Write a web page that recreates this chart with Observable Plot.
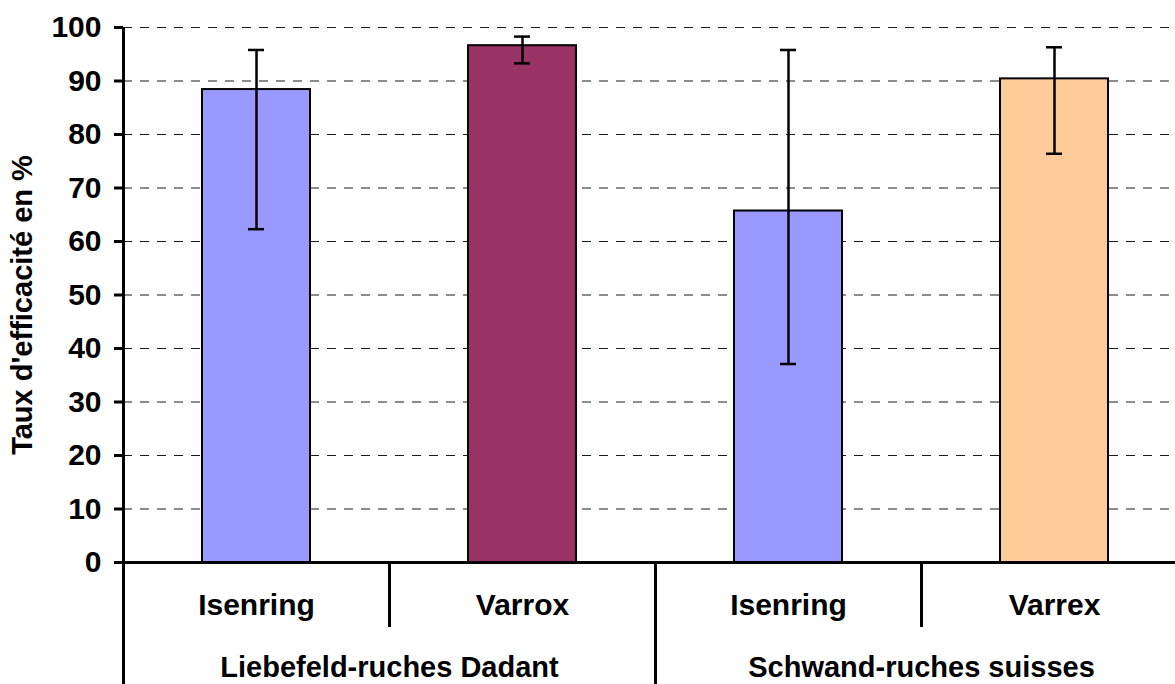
<!DOCTYPE html>
<html>
<head>
<meta charset="utf-8">
<script src="https://cdn.jsdelivr.net/npm/d3@7"></script>
<script src="https://cdn.jsdelivr.net/npm/@observablehq/plot@0.6"></script>
<style>
  html, body { margin: 0; padding: 0; background: #fff; overflow: hidden; }
  #chart svg { display: block; overflow: visible; }
</style>
</head>
<body>
<div id="chart"></div>
<script>
// ---- data ----
const groups = ["Liebefeld-ruches Dadant", "Liebefeld-ruches Dadant", "Schwand-ruches suisses", "Schwand-ruches suisses"];
const treatments = ["Isenring", "Varrox", "Isenring", "Varrex"];
const efficacy = [88.4, 96.6, 65.7, 90.4];
const errLow = [62.3, 93.3, 37.1, 76.4];
const errHigh = [95.8, 98.3, 95.8, 96.3];
const yTicks = [0, 10, 20, 30, 40, 50, 60, 70, 80, 90, 100];
const yTitle = "Taux d'efficacité en %";

// ---- styles ----
const colorDomain = ["Isenring", "Varrox", "Varrex"];
const colorRange = ["#9999FF", "#993366", "#FFCC99"];

const rows = treatments.map((t, i) => ({
  key: groups[i] + "|" + t,
  group: groups[i],
  treatment: t,
  value: efficacy[i],
  lo: errLow[i],
  hi: errHigh[i]
}));
const keys = rows.map(d => d.key);
const groupStarts = rows.filter((d, i) => i === 0 || groups[i - 1] !== d.group);
const innerStarts = rows.filter((d, i) => i > 0 && groups[i - 1] === d.group);

const W = 1175, H = 684;
const mTop = 27, mBottom = 122, mLeft = 123;
const xRange = [mLeft, 1187];
const step = (xRange[1] - xRange[0]) / keys.length;
const plotH = H - mTop - mBottom;
const font = "Liberation Sans, Arial, sans-serif";

const chart = Plot.plot({
  width: W,
  height: H,
  marginTop: mTop,
  marginBottom: mBottom,
  marginLeft: mLeft,
  marginRight: 0,
  style: { fontFamily: font, fontWeight: "bold", background: "#fff", color: "#000" },
  x: { domain: keys, range: xRange, paddingInner: 0.594, paddingOuter: 0.297, axis: null },
  y: { domain: [0, 100], axis: null },
  color: { domain: colorDomain, range: colorRange },
  marks: [
    Plot.gridY(yTicks.slice(1), { stroke: "#000", strokeOpacity: 0.9, strokeDasharray: "9,8", strokeWidth: 1.2 }),
    Plot.barY(rows, { x: "key", y: "value", fill: "treatment", stroke: "#000", strokeWidth: 2 }),
    Plot.ruleX(rows, { x: "key", y1: "lo", y2: "hi", stroke: "#000", strokeWidth: 2.5 }),
    Plot.tickY(rows, { x: "key", y: "lo", stroke: "#000", strokeWidth: 2.5, insetLeft: 46, insetRight: 46 }),
    Plot.tickY(rows, { x: "key", y: "hi", stroke: "#000", strokeWidth: 2.5, insetLeft: 46, insetRight: 46 }),
    // x axis line
    Plot.ruleY([0], { stroke: "#000", strokeWidth: 3, insetLeft: -9 }),
    // y axis line
    Plot.ruleX([keys[0]], { dx: -step / 2, stroke: "#000", strokeWidth: 3 }),
    // y ticks + labels
    Plot.axisY(yTicks, { tickSize: 9, tickPadding: 13, strokeWidth: 3, fontSize: 30, fontWeight: "bold", label: null }),
    // group separators below the axis
    Plot.ruleX(groupStarts, { x: "key", dx: -step / 2, insetTop: plotH, insetBottom: -mBottom, stroke: "#000", strokeWidth: 3 }),
    Plot.ruleX(innerStarts, { x: "key", dx: -step / 2, insetTop: plotH, insetBottom: -65, stroke: "#000", strokeWidth: 3 }),
    // category labels
    Plot.text(rows, { x: "key", text: "treatment", frameAnchor: "bottom", dy: 52, fontSize: 30, fontWeight: "bold", fill: "#000" }),
    Plot.text(groupStarts, { x: "key", text: "group", frameAnchor: "bottom", dx: step / 2, dy: 114, fontSize: 29, fontWeight: "bold", fill: "#000" }),
    // y title
    Plot.text([yTitle], { frameAnchor: "left", textAnchor: "middle", rotate: -90, dx: -101, dy: 10, fontSize: 29, fontWeight: "bold", fill: "#000" })
  ]
});
document.getElementById("chart").appendChild(chart);
</script>
</body>
</html>
